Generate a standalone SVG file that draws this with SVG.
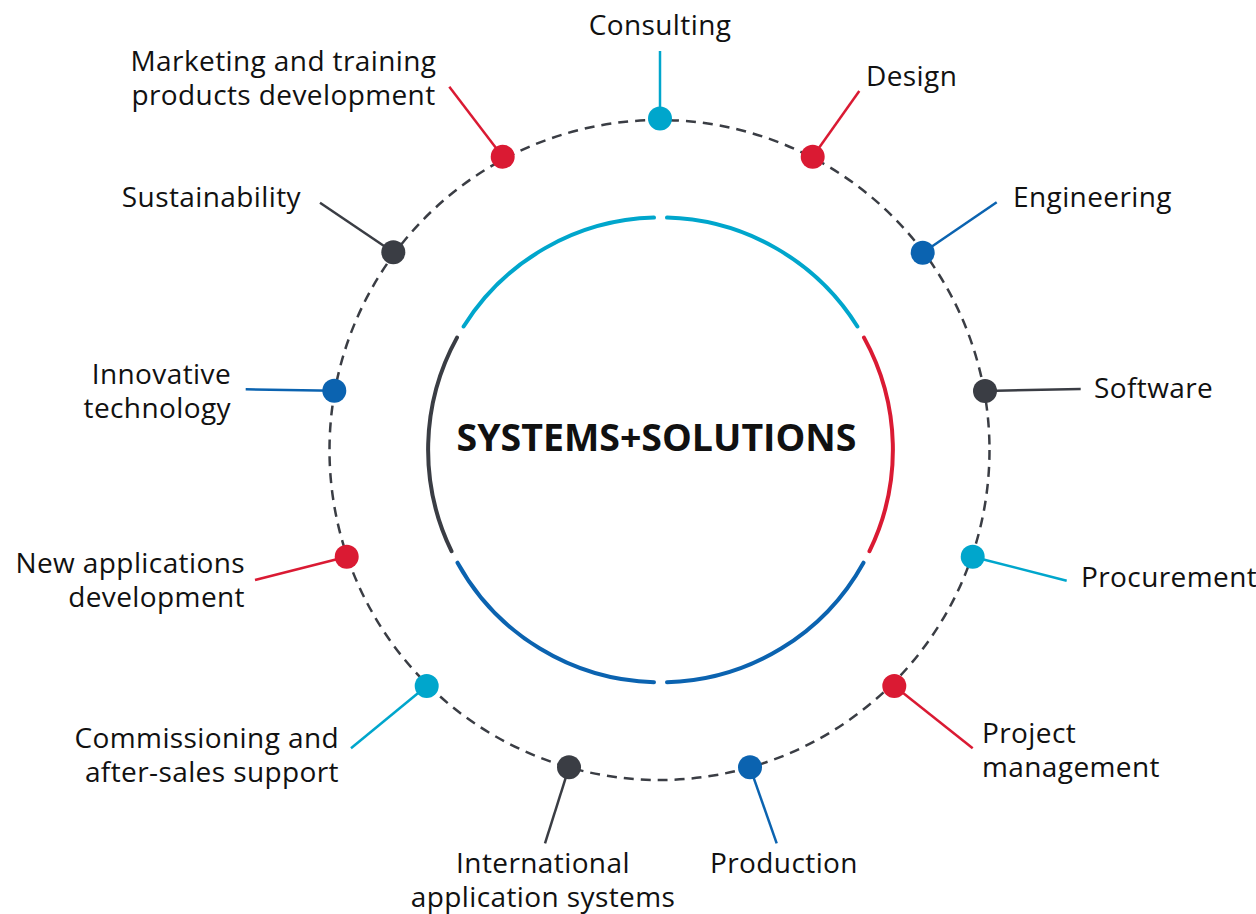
<svg xmlns="http://www.w3.org/2000/svg" width="1256" height="914" viewBox="0 0 1256 914">
<style>
.lbl{font-family:"Open Sans","Noto Sans","Liberation Sans",sans-serif;font-size:28px;letter-spacing:0.4px;fill:#111;}
.title{font-family:"Open Sans","Noto Sans","Liberation Sans",sans-serif;font-size:37.5px;font-weight:bold;fill:#111;}
.arc{fill:none;stroke-width:4;stroke-linecap:round;}
.c{stroke:#00a6cc;} .r{stroke:#da1a33;} .b{stroke:#0b63b0;} .d{stroke:#3a3d44;}
.cf{fill:#00a6cc;} .rf{fill:#da1a33;} .bf{fill:#0b63b0;} .df{fill:#3a3d44;}
.con{stroke-width:2.5;fill:none;}
</style>
<rect width="1256" height="914" fill="#fff"/>
<circle cx="659.5" cy="450" r="330" fill="none" stroke="#3a3d44" stroke-width="2.5" stroke-dasharray="10 7"/>
<g id="center">
<path class="arc c" d="M463.6 326.5 A232 232 0 0 1 654 217.6"/>
<path class="arc c" d="M667 217.6 A232 232 0 0 1 857.4 326.5"/>
<path class="arc r" d="M864 337.6 A232 232 0 0 1 869.5 551.2"/>
<path class="arc b" d="M863.5 562.7 A232 232 0 0 1 667 682.3"/>
<path class="arc b" d="M654 682.3 A232 232 0 0 1 457.5 562.7"/>
<path class="arc d" d="M451.5 551.2 A232 232 0 0 1 457 337.6"/>
<text class="title" x="656.5" y="451" text-anchor="middle">SYSTEMS+SOLUTIONS</text>
</g>
<g id="connectors">
<line class="con c" x1="660" y1="118.5" x2="660" y2="51"/>
<line class="con r" x1="812.7" y1="156.7" x2="859.3" y2="91"/>
<line class="con b" x1="922.7" y1="252.7" x2="996.7" y2="202.3"/>
<line class="con d" x1="985" y1="391" x2="1080.7" y2="389"/>
<line class="con c" x1="972.7" y1="556.7" x2="1066.7" y2="580.7"/>
<line class="con r" x1="894.3" y1="686" x2="972.7" y2="748.3"/>
<line class="con b" x1="750" y1="767.3" x2="776.7" y2="843.3"/>
<line class="con d" x1="569" y1="767.3" x2="545" y2="843.3"/>
<line class="con c" x1="426.7" y1="686" x2="351" y2="748.3"/>
<line class="con r" x1="346.7" y1="556.7" x2="255" y2="580"/>
<line class="con b" x1="334.3" y1="390.7" x2="245.7" y2="389.3"/>
<line class="con d" x1="393.3" y1="252.3" x2="320" y2="202.7"/>
<line class="con r" x1="502.7" y1="156.7" x2="449.3" y2="86.7"/>
</g>
<g id="consulting"><circle class="cf" cx="660" cy="118.5" r="12"/><text class="lbl" x="660" y="35" text-anchor="middle">Consulting</text></g>
<g id="design"><circle class="rf" cx="812.7" cy="156.7" r="12"/><text class="lbl" x="866" y="86">Design</text></g>
<g id="engineering"><circle class="bf" cx="922.7" cy="252.7" r="12"/><text class="lbl" x="1013" y="206.5">Engineering</text></g>
<g id="software"><circle class="df" cx="985" cy="391" r="12"/><text class="lbl" x="1094" y="398">Software</text></g>
<g id="procurement"><circle class="cf" cx="972.7" cy="556.7" r="12"/><text class="lbl" x="1081" y="586.5">Procurement</text></g>
<g id="project-management"><circle class="rf" cx="894.3" cy="686" r="12"/><text class="lbl" x="982" y="742.7">Project</text><text class="lbl" x="982" y="776.5">management</text></g>
<g id="production"><circle class="bf" cx="750" cy="767.3" r="12"/><text class="lbl" x="710" y="873">Production</text></g>
<g id="international"><circle class="df" cx="569" cy="767.3" r="12"/><text class="lbl" x="543" y="873" text-anchor="middle">International</text><text class="lbl" x="543" y="906.5" text-anchor="middle">application systems</text></g>
<g id="commissioning"><circle class="cf" cx="426.7" cy="686" r="12"/><text class="lbl" x="339" y="748.3" text-anchor="end">Commissioning and</text><text class="lbl" x="339" y="781.7" text-anchor="end">after-sales support</text></g>
<g id="new-applications"><circle class="rf" cx="346.7" cy="556.7" r="12"/><text class="lbl" x="245" y="573.3" text-anchor="end">New applications</text><text class="lbl" x="245" y="606.7" text-anchor="end">development</text></g>
<g id="innovative"><circle class="bf" cx="334.3" cy="390.7" r="12"/><text class="lbl" x="231" y="384" text-anchor="end">Innovative</text><text class="lbl" x="231" y="417.5" text-anchor="end">technology</text></g>
<g id="sustainability"><circle class="df" cx="393.3" cy="252.3" r="12"/><text class="lbl" x="301" y="206.5" text-anchor="end">Sustainability</text></g>
<g id="marketing"><circle class="rf" cx="502.7" cy="156.7" r="12"/><text class="lbl" x="283.5" y="71" text-anchor="middle">Marketing and training</text><text class="lbl" x="283.5" y="104.5" text-anchor="middle">products development</text></g>
</svg>
